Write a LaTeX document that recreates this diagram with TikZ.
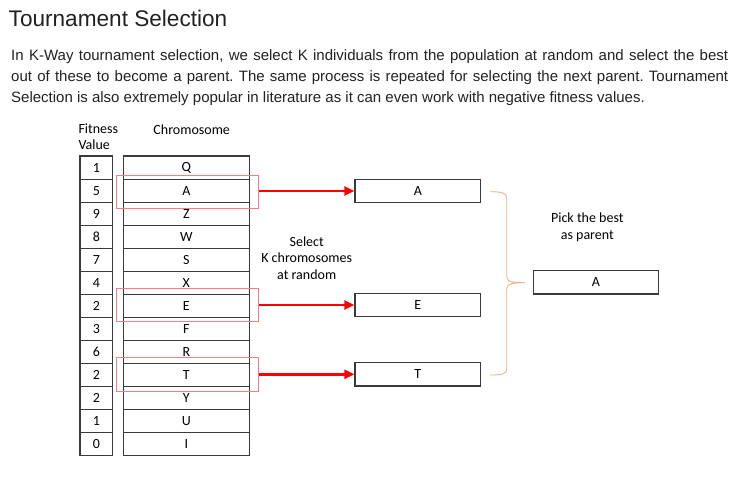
\documentclass[tikz,border=0pt]{standalone}
\usepackage{fontspec}
\setmainfont{Liberation Sans}
\newfontfamily\calfont{Carlito}
\usetikzlibrary{arrows.meta}
\definecolor{boxline}{HTML}{3A3A3A}
\definecolor{hlred}{HTML}{FF7C80}
\definecolor{arrred}{HTML}{FF0000}
\definecolor{braceor}{HTML}{F4B183}
\definecolor{txt}{HTML}{222222}
\tikzset{
  cell/.style={draw=boxline, line width=1.1pt, minimum height=23.07pt, inner sep=0pt, font=\calfont\fontsize{14}{16}\selectfont},
  fitcell/.style={cell, minimum width=32.7pt},
  chrcell/.style={cell, minimum width=126pt},
  hlbox/.style={draw=hlred, line width=0.9pt, minimum width=142.3pt, minimum height=33.3pt, inner sep=0pt},
  selbox/.style={draw=boxline, line width=1.1pt, minimum width=125.7pt, minimum height=23.4pt, inner sep=0pt, font=\calfont\fontsize{14}{16}\selectfont},
  redarrow/.style={draw=arrred, line width=2.6pt, -{Triangle[length=10pt,width=9pt]}},
  lbl/.style={font=\calfont\fontsize{14}{16.5}\selectfont, align=center, inner sep=0pt},
}
\begin{document}
\frenchspacing
\begin{tikzpicture}[x=1pt,y=-1pt]
\useasboundingbox (0,0) rectangle (738,481);
\fill[white] (0,0) rectangle (738,481);
% title and paragraph
\node[anchor=base west, inner sep=0pt, text=txt, font=\fontsize{22.6}{27}\selectfont] (title) at (8.5,26.7) {Tournament Selection};
\node[anchor=base west, inner sep=0pt, text=txt, font=\fontsize{15}{20.5}\selectfont] (p1) at (11,61) {\makebox[717pt][s]{In K-Way tournament selection, we select K individuals from the population at random and select the best}};
\node[anchor=base west, inner sep=0pt, text=txt, font=\fontsize{15}{20.5}\selectfont] (p2) at (11,81.7) {\makebox[717pt][s]{out of these to become a parent. The same process is repeated for selecting the next parent. Tournament}};
\node[anchor=base west, inner sep=0pt, text=txt, font=\fontsize{15}{20.5}\selectfont] (p3) at (11,102.2) {Selection is also extremely popular in literature as it can even work with negative fitness values.};
% headers
\node[lbl, anchor=west, align=left] (hfit) at (78.3,136.5) {Fitness\\Value};
\node[lbl] (hchr) at (191.7,130) {Chromosome};
% table
\foreach \i/\f/\c in {1/1/Q,2/5/A,3/9/Z,4/8/W,5/7/S,6/4/X,7/2/E,8/3/F,9/6/R,10/2/T,11/2/Y,12/1/U,13/0/I}{
  \node[fitcell] (f\i) at (96.35,{156+23.07*(\i-0.5)}) {\f};
  \node[chrcell] (c\i) at (186.3,{156+23.07*(\i-0.5)}) {\c};
}
% highlight boxes
\node[hlbox] (h1) at (187.2,191.7) {};
\node[hlbox] (h2) at (187.2,305.0) {};
\node[hlbox] (h3) at (187.2,374.3) {};
% selected boxes
\node[selbox] (s1) at (417.8,191.0) {A};
\node[selbox] (s2) at (417.8,305.0) {E};
\node[selbox] (s3) at (417.8,374.3) {T};
% arrows
\draw[redarrow] (h1.east |- s1.west) -- (s1.west);
\draw[redarrow] (h2.east |- s2.west) -- (s2.west);
\draw[redarrow] (h3.east |- s3.west) -- (s3.west);
% labels
\node[lbl] (selt) at (306.7,258) {Select\\K chromosomes\\at random};
\node[lbl] (pick) at (587.3,227.5) {Pick the best\\as parent};
% result
\node[selbox, minimum width=125pt, minimum height=23.3pt] (res) at (595.8,282.3) {A};
% brace
\coordinate (bt) at (490,191.7);
\coordinate (bb) at (490,375.0);
\coordinate (tip) at (525,282.7);
\draw[braceor, line width=0.9pt]
  (bt) .. controls (502,191.7) and (506.7,193) .. (506.7,198)
  -- (506.7,276) .. controls (506.7,281.5) and (510,282.7) .. (tip)
  (tip) .. controls (510,282.7) and (506.7,284) .. (506.7,289.5)
  -- (506.7,369) .. controls (506.7,374) and (502,375) .. (bb);
\end{tikzpicture}
\end{document}
